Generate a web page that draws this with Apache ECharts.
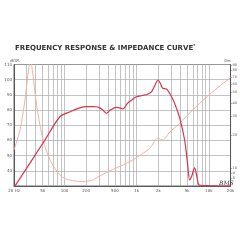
<!DOCTYPE html>
<html><head><meta charset="utf-8">
<script src="https://cdn.jsdelivr.net/npm/echarts@6/dist/echarts.min.js"></script>
<style>html,body{margin:0;padding:0;background:#fff}#c{width:240px;height:240px}</style>
</head><body><div id="c"></div>
<script>
const freqSPL = [20, 53.7, 86.5, 120, 163, 200, 264, 300, 340, 382, 430, 526, 600, 643, 750, 850, 993, 1200, 1425, 1600, 1800, 1977, 2150, 2297, 2590, 3000, 3364, 3945, 4625, 5100, 5424, 5800, 6360, 6900, 7460, 20000];
const splDb   = [29, 60.3, 75.6, 78.9, 81.4, 82.3, 82.2, 81.8, 80, 77.9, 80, 81.8, 81.3, 80.7, 84.6, 86.5, 88.8, 89.6, 90.4, 91.9, 96.5, 99.8, 97.2, 94.3, 93.9, 89.3, 84.4, 74.8, 60.3, 43.8, 34, 36.6, 41.9, 35.3, 30.5, 30];
const freqZ = [20, 24.2, 28.4, 31.1, 33.8, 36.6, 40.2, 45.8, 50.6, 62.9, 81.7, 101, 130, 180, 247, 309, 467, 729, 1036, 1518, 1960, 2297, 2870, 3945, 4625, 7460, 11270, 20000];
const zOhm  = [14.7, 22.5, 42.7, 72.6, 100, 72.6, 42.7, 25, 18.2, 11.9, 9.0, 8.0, 7.63, 7.46, 7.74, 8.43, 9.68, 11.05, 12.7, 15.2, 18.8, 18.2, 21.5, 25.9, 29, 39.7, 50.8, 68.9];
const freqGrid = [20,30,40,50,60,70,80,90,100,200,300,400,500,600,700,800,900,1000,2000,3000,4000,5000,6000,7000,8000,9000,10000,20000];
const freqLabels = [20,50,100,200,500,1000,2000,5000,10000,20000];
const freqLabelText = ['20 Hz','50','100','200','500','1k','2k','5k','10k','20k'];
const zTicks = [8,9,10,20,30,40,50,60,70,80,90];
const zMin = 6.8, zMax = 91;
const dbMin = 30, dbMax = 110, dbStep = 10;

const L = Math.log10;
const chart = echarts.init(document.getElementById('c'), null, {renderer:'canvas'});
const lblFont = {fontSize:4, color:'#555', fontFamily:'DejaVu Sans'};
chart.setOption({
  animation:false,
  title:[{
    text:'FREQUENCY RESPONSE & IMPEDANCE CURVE{s|*}', left:10, top:39,
    textStyle:{fontSize:7, fontWeight:'bold', color:'#333', fontFamily:'DejaVu Sans',
      rich:{s:{fontSize:4, color:'#333', verticalAlign:'top', padding:[0,0,4,0]}}}
  },{
    text:'BMS', left:214, top:175,
    textStyle:{fontSize:6, fontStyle:'italic', fontWeight:'normal', color:'#333', fontFamily:'DejaVu Serif'}
  }],
  grid:{left:14, right:9, top:64.5, bottom:54, show:true, borderColor:'#444', borderWidth:0.8},
  xAxis:{type:'value', min:L(20), max:L(20000),
    axisLine:{show:true, lineStyle:{color:'#444', width:0.8}},
    axisTick:{show:false, customValues:freqGrid.map(L)},
    axisLabel:{customValues:freqLabels.map(L), ...lblFont, margin:3,
      formatter:v=>{const f=Math.pow(10,v); const i=freqLabels.findIndex(x=>Math.abs(x-f)/x<0.01); return i>=0?freqLabelText[i]:'';}},
    splitLine:{show:true, lineStyle:{color:'#aaa', width:0.7}}
  },
  yAxis:[{type:'value', min:dbMin, max:dbMax, interval:dbStep, name:'dB SPL', nameGap:2,
    nameTextStyle:{fontSize:3, color:'#555', align:'left', padding:[0,0,0,-4]},
    axisLine:{show:true, lineStyle:{color:'#444', width:0.8}}, axisTick:{show:false},
    axisLabel:{...lblFont, margin:2, showMinLabel:false},
    splitLine:{show:true, lineStyle:{color:'#aaa', width:0.7}}
  },{type:'value', min:L(zMin), max:L(zMax), position:'right', name:'Ohm', nameGap:2,
    nameTextStyle:{fontSize:3, color:'#555', align:'right'},
    axisLine:{show:true, lineStyle:{color:'#444', width:0.8}},
    axisTick:{show:true, length:1.5, inside:false, customValues:zTicks.map(L), lineStyle:{color:'#666', width:0.5}},
    axisLabel:{customValues:zTicks.map(L), ...lblFont, fontSize:3.5, margin:2,
      formatter:v=>String(Math.round(Math.pow(10,v)))},
    splitLine:{show:false}
  }],
  series:[{
    type:'line', yAxisIndex:1, showSymbol:false, smooth:0.3, clip:true,
    lineStyle:{color:'#f0b2a2', width:1}, z:2,
    data:freqZ.map((f,i)=>[L(f), L(zOhm[i])])
  },{
    type:'line', yAxisIndex:0, showSymbol:false, smooth:0.3, clip:true,
    lineStyle:{color:'#d9344f', width:1.2}, z:3,
    data:freqSPL.map((f,i)=>[L(f), splDb[i]])
  }]
});
</script></body></html>
